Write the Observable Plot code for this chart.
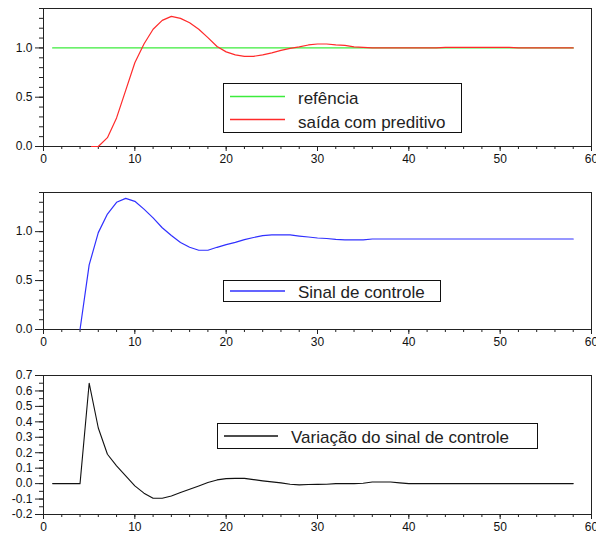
<!DOCTYPE html>
<html><head><meta charset="utf-8">
<script src="https://cdn.jsdelivr.net/npm/d3@7"></script>
<script src="https://cdn.jsdelivr.net/npm/@observablehq/plot@0.6"></script>
<style>
body{margin:0;background:#fff;font-family:"Liberation Sans",Arial,sans-serif;}
#root{position:relative;width:596px;height:534px;overflow:hidden;}
.panel{position:absolute;left:0;}
.panel svg{display:block;}
.legend{position:absolute;}
</style></head>
<body><div id="root"></div>
<script>
// ---- data ----
const refT = [1, 58];
const refY = [1, 1];
const outT = [5.25, 6, 7, 8, 9, 10, 11, 12, 13, 14, 15, 16, 17, 18, 19, 20, 21, 22, 23, 24, 25, 26, 27, 28, 29, 30, 31, 32, 33, 34, 35, 36, 43, 44, 51, 52, 58];
const outY = [0, 0, 0.09, 0.29, 0.57, 0.85, 1.04, 1.19, 1.28, 1.32, 1.30, 1.255, 1.19, 1.105, 1.015, 0.96, 0.93, 0.915, 0.915, 0.93, 0.95, 0.975, 0.995, 1.01, 1.03, 1.04, 1.04, 1.03, 1.025, 1.01, 1.005, 1.0, 1.0, 1.005, 1.005, 1.0, 1.0];
const ctrlT = [4, 5, 6, 7, 8, 9, 10, 11, 12, 13, 14, 15, 16, 17, 18, 19, 20, 21, 22, 23, 24, 25, 26, 27, 28, 29, 30, 31, 32, 33, 34, 35, 36, 58];
const ctrlY = [0, 0.66, 0.99, 1.18, 1.30, 1.34, 1.31, 1.23, 1.14, 1.04, 0.96, 0.89, 0.84, 0.81, 0.81, 0.84, 0.867, 0.89, 0.918, 0.94, 0.96, 0.966, 0.966, 0.966, 0.955, 0.945, 0.935, 0.93, 0.92, 0.915, 0.915, 0.915, 0.925, 0.925];
const dT = [1, 2, 3, 4, 5, 6, 7, 8, 9, 10, 11, 12, 13, 14, 15, 16, 17, 18, 19, 20, 21, 22, 23, 24, 25, 26, 27, 28, 29, 30, 31, 32, 33, 34, 35, 36, 37, 38, 39, 40, 58];
const dY = [0, 0, 0, 0, 0.65, 0.36, 0.19, 0.115, 0.05, -0.015, -0.062, -0.095, -0.095, -0.08, -0.058, -0.037, -0.015, 0.007, 0.024, 0.032, 0.034, 0.034, 0.026, 0.018, 0.011, 0.005, -0.004, -0.008, -0.006, -0.005, -0.004, 0, 0, 0, 0.002, 0.01, 0.01, 0.01, 0.005, 0, 0];

const xMajor = [0, 10, 20, 30, 40, 50, 60];
const y12Major = [0, 0.5, 1.0];
const y3Major = [-0.2, -0.1, 0, 0.1, 0.2, 0.3, 0.4, 0.5, 0.6, 0.7];

const legend1 = ["refência", "saída com preditivo"];
const legend2 = ["Sinal de controle"];
const legend3 = ["Variação do sinal de controle"];

// minor tick positions (layout)
const xMinor = d3.range(0, 61, 2);
const y12Minor = d3.range(0, 15).map(i => i / 10);
const y3Minor = d3.range(-4, 15).map(i => i / 20);

const root = document.getElementById("root");

function panel({top, height, mt, mb, yDomain, yMajor, yMinor, lines}) {
  const svg = Plot.plot({
    width: 596, height,
    marginLeft: 43, marginRight: 5, marginTop: mt, marginBottom: mb,
    x: {domain: [0, 60], label: null},
    y: {domain: yDomain, label: null},
    style: {fontFamily: "'Liberation Sans', Arial, sans-serif", fontSize: "12px", color: "#111", background: "transparent", overflow: "visible"},
    marks: [
      Plot.axisX(xMinor, {tickSize: 3, text: null, stroke: "#222"}),
      Plot.axisX(xMajor, {tickSize: 5, tickPadding: 3, tickFormat: d => String(d), stroke: "#222", label: null}),
      Plot.axisY(yMinor, {tickSize: 4, text: null, stroke: "#222"}),
      Plot.axisY(yMajor, {tickSize: 8, tickPadding: 3, tickFormat: d => d.toFixed(1), stroke: "#222", label: null}),
      Plot.frame({stroke: "#222"}),
      ...lines
    ]
  });
  const div = document.createElement("div");
  div.className = "panel";
  div.style.top = top + "px";
  div.appendChild(svg);
  root.appendChild(div);
}

panel({top: 0, height: 180, mt: 8, mb: 34, yDomain: [0, 1.4], yMajor: y12Major, yMinor: y12Minor, lines: [
  Plot.line(refY, {x: refT, y: refY, stroke: "#3cec3c", strokeWidth: 1.2}),
  Plot.line(outY, {x: outT, y: outY, stroke: "#ff2a2a", strokeWidth: 1.2})
]});
panel({top: 180, height: 180, mt: 12, mb: 31, yDomain: [0, 1.4], yMajor: y12Major, yMinor: y12Minor, lines: [
  Plot.line(ctrlY, {x: ctrlT, y: ctrlY, stroke: "#3030ff", strokeWidth: 1.2})
]});
panel({top: 360, height: 174, mt: 15, mb: 20, yDomain: [-0.2, 0.7], yMajor: y3Major, yMinor: y3Minor, lines: [
  Plot.line(dY, {x: dT, y: dY, stroke: "#111", strokeWidth: 1.1})
]});

// legends (layout boxes)
function legend({left, top, w, h, items, colors, lineX0, lineX1, textX, rows}) {
  const svg = d3.create("svg").attr("class", "legend").attr("width", w + 2).attr("height", h + 2)
    .style("left", (left - 1) + "px").style("top", (top - 1) + "px");
  svg.append("rect").attr("x", 1.5).attr("y", 1.5).attr("width", w - 1).attr("height", h - 1)
    .attr("fill", "#fff").attr("stroke", "#111");
  items.forEach((t, i) => {
    svg.append("line").attr("x1", lineX0 - left + 1).attr("x2", lineX1 - left + 1)
      .attr("y1", rows[i].line - top + 1).attr("y2", rows[i].line - top + 1)
      .attr("stroke", colors[i]).attr("stroke-width", 1.3);
    svg.append("text").attr("x", textX - left + 1).attr("y", rows[i].text - top + 1)
      .attr("dominant-baseline", "central")
      .style("font-family", "'Liberation Sans', Arial, sans-serif").style("font-size", "17px")
      .attr("fill", "#222").text(t);
  });
  root.appendChild(svg.node());
}
legend({left: 223, top: 83, w: 239, h: 50, items: legend1, colors: ["#3cec3c", "#ff2a2a"],
  lineX0: 230, lineX1: 285, textX: 298, rows: [{line: 96.5, text: 98.5}, {line: 119.5, text: 122}]});
legend({left: 223, top: 280, w: 218, h: 22, items: legend2, colors: ["#3030ff"],
  lineX0: 230, lineX1: 285, textX: 298, rows: [{line: 291, text: 292.5}]});
legend({left: 217, top: 423, w: 321, h: 26, items: legend3, colors: ["#111"],
  lineX0: 224, lineX1: 278, textX: 291, rows: [{line: 436, text: 437.5}]});
</script>
</body></html>
